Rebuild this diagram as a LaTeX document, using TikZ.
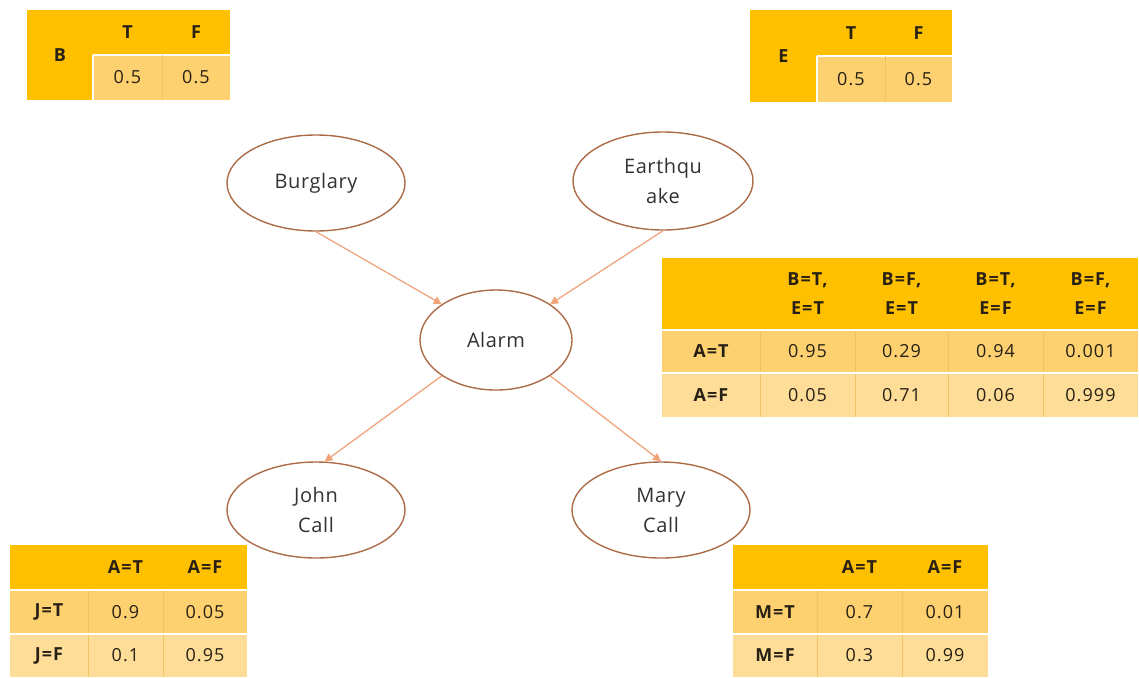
\documentclass[tikz,border=0pt]{standalone}
\usepackage{fontspec}
\setmainfont{Open Sans}
\newfontfamily\cellfont[LetterSpace=6]{Open Sans}
\newfontfamily\nodefont[LetterSpace=3]{Open Sans}
\usetikzlibrary{arrows.meta,shapes.geometric}

\definecolor{hdr}{RGB}{255,192,0}
\definecolor{rowa}{RGB}{253,209,112}
\definecolor{rowb}{RGB}{253,221,152}
\definecolor{vsep}{RGB}{240,196,96}
\definecolor{txt}{RGB}{40,32,20}
\definecolor{ntxt}{RGB}{50,50,50}
\definecolor{ring}{RGB}{172,108,72}
\definecolor{edge}{RGB}{240,165,125}
\definecolor{tip}{RGB}{245,160,110}

\tikzset{
  cell/.style={rectangle, inner sep=0pt, outer sep=0pt, text=txt,
    font=\cellfont\fontsize{18}{29}\selectfont},
  hcell/.style={cell, fill=hdr, font=\cellfont\fontsize{18}{29}\selectfont\bfseries},
  acell/.style={cell, fill=rowa},
  bcell/.style={cell, fill=rowb},
  lcell/.style={acell, font=\cellfont\fontsize{18}{29}\selectfont\bfseries},
  mcell/.style={bcell, font=\cellfont\fontsize{18}{29}\selectfont\bfseries},
  rv/.style={draw=ring, line width=1.4pt, ellipse, text=ntxt, align=center,
    font=\nodefont\fontsize{20}{30}\selectfont, inner sep=0pt},
  link/.style={draw=edge, line width=1.3pt,
    -{Triangle[length=8pt,width=8pt,fill=tip]}, shorten >=0pt},
  wline/.style={draw=white, line width=2pt},
  vline/.style={draw=vsep, line width=0.7pt}
}

\begin{document}
\begin{tikzpicture}[x=1pt, y=-1pt]
\useasboundingbox (0,0) rectangle (1139,677);

% ---- prior table for B ----
\node[hcell, minimum width=66, minimum height=90] (bB) at (60,55) {B};
\node[hcell, minimum width=69, minimum height=45] (bT) at (127.5,32.5) {T};
\node[hcell, minimum width=68, minimum height=45] (bF) at (196,32.5) {F};
\node[acell, minimum width=69, minimum height=45] (b1) at (127.5,77.5) {0.5};
\node[acell, minimum width=68, minimum height=45] (b2) at (196,77.5) {0.5};
\draw[wline] (b1.north west) -- (b2.north east);
\draw[wline] (b1.north west) -- (b1.south west);
\draw[vline] (b1.north east) -- (b1.south east);

% ---- prior table for E ----
\node[hcell, minimum width=67, minimum height=92] (eE) at (783.5,56) {E};
\node[hcell, minimum width=68, minimum height=46] (eT) at (851,33) {T};
\node[hcell, minimum width=67, minimum height=46] (eF) at (918.5,33) {F};
\node[acell, minimum width=68, minimum height=46] (e1) at (851,79) {0.5};
\node[acell, minimum width=67, minimum height=46] (e2) at (918.5,79) {0.5};
\draw[wline] (e1.north west) -- (e2.north east);
\draw[wline] (e1.north west) -- (e1.south west);
\draw[vline] (e1.north east) -- (e1.south east);

% ---- conditional table for A ----
\begin{scope}[every node/.append style={minimum height=72}]
\node[hcell, minimum width=98] (a00) at (711,294) {};
\node[hcell, minimum width=95, align=center] (a01) at (807.5,294) {B=T,\\E=T};
\node[hcell, minimum width=93, align=center] (a02) at (901.5,294) {B=F,\\E=T};
\node[hcell, minimum width=95, align=center] (a03) at (995.5,294) {B=T,\\E=F};
\node[hcell, minimum width=95, align=center] (a04) at (1090.5,294) {B=F,\\E=F};
\end{scope}
\begin{scope}[every node/.append style={minimum height=43}]
\node[lcell, minimum width=98] (a10) at (711,351.5) {A=T};
\node[acell, minimum width=95] (a11) at (807.5,351.5) {0.95};
\node[acell, minimum width=93] (a12) at (901.5,351.5) {0.29};
\node[acell, minimum width=95] (a13) at (995.5,351.5) {0.94};
\node[acell, minimum width=95] (a14) at (1090.5,351.5) {0.001};
\end{scope}
\begin{scope}[every node/.append style={minimum height=44}]
\node[mcell, minimum width=98] (a20) at (711,395) {A=F};
\node[bcell, minimum width=95] (a21) at (807.5,395) {0.05};
\node[bcell, minimum width=93] (a22) at (901.5,395) {0.71};
\node[bcell, minimum width=95] (a23) at (995.5,395) {0.06};
\node[bcell, minimum width=95] (a24) at (1090.5,395) {0.999};
\end{scope}
\foreach \c in {0,1,2,3} {
  \draw[vline] (a1\c.north east) -- (a2\c.south east);
}
\draw[wline] (a10.north west) -- (a14.north east);
\draw[wline] (a20.north west) -- (a24.north east);

% ---- conditional table for J ----
\node[hcell, minimum width=78, minimum height=45] (j00) at (49,567.5) {};
\node[hcell, minimum width=75, minimum height=45] (j01) at (125.5,567.5) {A=T};
\node[hcell, minimum width=84, minimum height=45] (j02) at (205,567.5) {A=F};
\node[lcell, minimum width=78, minimum height=44] (j10) at (49,612) {J=T};
\node[acell, minimum width=75, minimum height=44] (j11) at (125.5,612) {0.9};
\node[acell, minimum width=84, minimum height=44] (j12) at (205,612) {0.05};
\node[mcell, minimum width=78, minimum height=43] (j20) at (49,655.5) {J=F};
\node[bcell, minimum width=75, minimum height=43] (j21) at (125.5,655.5) {0.1};
\node[bcell, minimum width=84, minimum height=43] (j22) at (205,655.5) {0.95};
\draw[vline] (j10.north east) -- (j20.south east);
\draw[vline] (j11.north east) -- (j21.south east);
\draw[wline] (j10.north west) -- (j12.north east);
\draw[wline] (j20.north west) -- (j22.north east);

% ---- conditional table for M ----
\node[hcell, minimum width=84, minimum height=45] (m00) at (775,567.5) {};
\node[hcell, minimum width=85, minimum height=45] (m01) at (859.5,567.5) {A=T};
\node[hcell, minimum width=86, minimum height=45] (m02) at (945,567.5) {A=F};
\node[lcell, minimum width=84, minimum height=44] (m10) at (775,612) {M=T};
\node[acell, minimum width=85, minimum height=44] (m11) at (859.5,612) {0.7};
\node[acell, minimum width=86, minimum height=44] (m12) at (945,612) {0.01};
\node[mcell, minimum width=84, minimum height=43] (m20) at (775,655.5) {M=F};
\node[bcell, minimum width=85, minimum height=43] (m21) at (859.5,655.5) {0.3};
\node[bcell, minimum width=86, minimum height=43] (m22) at (945,655.5) {0.99};
\draw[vline] (m10.north east) -- (m20.south east);
\draw[vline] (m11.north east) -- (m21.south east);
\draw[wline] (m10.north west) -- (m12.north east);
\draw[wline] (m20.north west) -- (m22.north east);

% ---- network nodes ----
\node[rv, minimum width=178, minimum height=96] (burg) at (316,183) {Burglary};
\node[rv, minimum width=180, minimum height=98] (quake) at (663,181) {Earthqu\\ake};
\node[rv, minimum width=152, minimum height=100] (alarm) at (496,340) {Alarm};
\node[rv, minimum width=178, minimum height=96] (john) at (316,510) {John\\Call};
\node[rv, minimum width=178, minimum height=96] (mary) at (661,510) {Mary\\Call};

% ---- dependencies ----
\draw[link] (burg.south) -- (alarm.north west);
\draw[link] (quake.south) -- (alarm.north east);
\draw[link] (alarm.south west) -- (john.80);
\draw[link] (alarm.south east) -- (mary.north);
\end{tikzpicture}
\end{document}
